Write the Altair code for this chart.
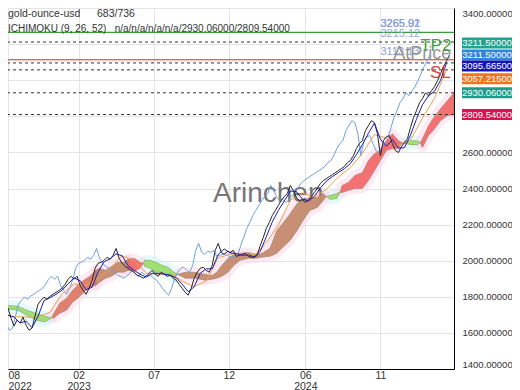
import altair as alt
import pandas as pd

FONT = "Arial"

# ---------------- data (x = trading-bar index, y = price) ----------------
close_start, close_step = 3, 4
close = [1698, 1660, 1737, 1682, 1638, 1671, 1654, 1687, 1643, 1615,
         1626, 1693, 1759, 1781, 1798, 1787, 1803, 1814, 1825, 1836,
         1847, 1869, 1897, 1914, 1897, 1914, 1864, 1836, 1814, 1847,
         1892, 1958, 1986, 1991, 2002, 2019, 2008, 2030, 2068, 2013,
         1986, 1969, 1958, 1947, 1936, 1919, 1914, 1903, 1914, 1930,
         1947, 1925, 1914, 1936, 1925, 1914, 1919, 1903, 1892, 1869,
         1847, 1825, 1809, 1847, 1903, 1936, 1958, 1964, 1947, 1936,
         1975, 2057, 2096, 2046, 2035, 2052, 2046, 2057, 2024, 2030,
         2035, 2041, 2024, 2019, 2019, 2030, 2085, 2129, 2179, 2212,
         2251, 2278, 2306, 2334, 2356, 2372, 2417, 2389, 2350, 2334,
         2339, 2323, 2334, 2356, 2378, 2400, 2428, 2444, 2455, 2466,
         2477, 2488, 2499, 2510, 2522, 2544, 2555, 2582, 2621, 2649,
         2665, 2720, 2748, 2776, 2765, 2704, 2582, 2665, 2687, 2693,
         2649, 2610, 2599, 2632, 2654, 2676, 2737, 2792, 2831, 2875,
         2897, 2930, 2914, 2941, 2964, 2997, 3035, 3074, 3107, 3140]

tenkan_start, tenkan_step = 11, 8
tenkan = [1698, 1688, 1655, 1665, 1629, 1692, 1779, 1795, 1814, 1836,
          1872, 1905, 1889, 1839, 1853, 1939, 1994, 2010, 2038, 2027,
          1972, 1947, 1925, 1909, 1930, 1930, 1925, 1920, 1905, 1870,
          1828, 1856, 1930, 1955, 1955, 2035, 2065, 2043, 2040, 2030,
          2032, 2021, 2052, 2132, 2215, 2278, 2331, 2386, 2383, 2342,
          2331, 2356, 2403, 2441, 2466, 2488, 2510, 2538, 2588, 2643,
          2706, 2762, 2673, 2634, 2671, 2624, 2626, 2695, 2784, 2864,
          2913, 2939, 2999, 3095.665]

kijun_start, kijun_step = 3, 16
kijun = [1700, 1690, 1688, 1687, 1715, 1817, 1870, 1864, 1900, 1956,
         2027, 2002, 1931, 1925, 1931, 1886, 1856, 1887, 2016, 2036,
         2041, 2030, 2099, 2196, 2334, 2376, 2351, 2395, 2464, 2516,
         2594, 2699, 2679, 2638, 2668, 2790, 2900, 3057.215]

chikou_shift = 26

# cloud (senkou span A / B), split in segments by colour
cloud_bar = [3, 24, 36, 48, 60, 69,
             69, 72, 80, 89, 97, 104, 112, 120, 128,
             128, 133, 141, 149, 157, 165, 171,
             171, 179, 187, 191,
             191, 193, 200, 208, 216, 224, 232, 237,
             237, 247, 260, 273, 283, 289, 296, 304, 312, 320, 331, 341,
             349, 360, 369, 377, 387, 396, 404, 413, 423, 431, 435,
             435, 440, 449, 453,
             453, 456, 464, 473, 483, 491, 499, 507, 515, 523, 531, 536,
             536, 547, 556, 560,
             560, 563, 571, 577, 587, 596, 605]
cloud_a = [1754, 1748, 1726, 1709, 1693, 1682,
           1682, 1709, 1765, 1792, 1836, 1864, 1892, 1914, 1947,
           1947, 1958, 1947, 1969, 1991, 1991, 2008,
           2008, 2013, 1991, 1986,
           1986, 2002, 2002, 1991, 1975, 1964, 1936, 1925,
           1925, 1936, 1936, 1925, 1919, 1936, 1975, 2013, 2035, 2041, 2046, 2035,
           2041, 2069, 2168, 2207, 2262, 2317, 2334, 2350, 2350, 2372, 2356,
           2356, 2361, 2372, 2378,
           2378, 2417, 2433, 2472, 2488, 2555, 2593, 2610, 2665, 2704, 2665, 2654,
           2654, 2665, 2665, 2654,
           2654, 2676, 2748, 2787, 2842, 2886, 2930.06]
cloud_b = [1737, 1726, 1698, 1671, 1660, 1682,
           1682, 1682, 1709, 1726, 1770, 1792, 1825, 1853, 1864,
           1864, 1881, 1903, 1914, 1936, 1936, 1947,
           1947, 1941, 1958, 1986,
           1986, 1969, 1958, 1936, 1936, 1919, 1908, 1925,
           1925, 1903, 1903, 1892, 1897, 1903, 1914, 1936, 1975, 2002, 2013, 2013,
           2019, 2024, 2041, 2074, 2113, 2168, 2223, 2278, 2295, 2334, 2356,
           2356, 2339, 2345, 2378,
           2378, 2378, 2389, 2400, 2400, 2444, 2499, 2555, 2610, 2621, 2621, 2654,
           2654, 2643, 2643, 2654,
           2654, 2627, 2693, 2720, 2776, 2803, 2809.54]
cloud_seg = ([1] * 6 + [2] * 9 + [3] * 7 + [4] * 4 + [5] * 8 + [6] * 23
             + [7] * 4 + [8] * 12 + [9] * 4 + [10] * 7)
seg_kind = ["green", "salmon", "brown", "red", "green",
            "brown", "green", "red", "green", "red"]
kind_names = ["green", "salmon", "brown", "red"]
kind_colors = ["#98e06c", "#df7a66", "#c48a6c", "#f26a6a"]
halo_colors = ["#c8f6f3", "#ffd3ec", "#ffd3ec", "#ffd3ec"]

# horizontal levels
green_level = 3265.0
red_level = 3113.13
dashed_levels = [3211.5, 3095.665, 3057.215, 2930.06, 2809.54]

# right-side price tags
tag_values = [3211.5, 3211.5, 3095.665, 3057.215, 2930.06, 2809.54]
tag_texts = ["3211.50000", "3211.50000", "3095.66500", "3057.21500", "2930.06000", "2809.54000"]
tag_colors = ["#22a38f", "#2f86de", "#1616b8", "#f2741a", "#1e9c8c", "#d8134f"]
tag_nudge = [1, 13, 3, 9, 0, 0]

# chart annotations
ann_text = ["3265.91", "3265.02", "3215.12", "3113.13", "AtPrice", "TP2", "SL"]
ann_bar = [507, 507, 507, 507, 524, 560, 573]
ann_price = [3265, 3265, 3215.12, 3113.13, 3113.13, 3211.5, 3057.215]
ann_color = ["#5a78d8", "#86a2e2", "#86a2e2", "#7f96d8", "#8c8c8c", "#2e9a2e", "#e02828"]
ann_size = [11, 11, 11, 11, 18, 17, 17]
ann_dy = [-3, -3, -2, -3, -1, 9, 8]

# x ticks
tick_bars = [11, 105, 205, 305, 407, 507]
tick_month = ["08", "02", "07", "12", "06", "11"]
tick_year = ["2022", "2023", "", "", "2024", ""]
y_ticks = [1400, 1600, 1800, 2000, 2200, 2400, 2600, 2800, 3000, 3200, 3400]

# ---------------- frames ----------------
close_df = pd.DataFrame({"bar": [close_start + close_step * i for i in range(len(close))],
                         "price": close})
tenkan_df = pd.DataFrame({"bar": [tenkan_start + tenkan_step * i for i in range(len(tenkan))],
                          "price": tenkan})
kijun_df = pd.DataFrame({"bar": [kijun_start + kijun_step * i for i in range(len(kijun))],
                         "price": kijun})
cloud_df = pd.DataFrame({"bar": cloud_bar, "a": cloud_a, "b": cloud_b, "seg": cloud_seg})
cloud_df["kind"] = [seg_kind[s - 1] for s in cloud_seg]

# ---------------- scales / axes ----------------
parts = []
for b, m, yv in zip(tick_bars, tick_month, tick_year):
    lab = f"['{m}','{yv}']" if yv else f"'{m}'"
    parts.append(f"datum.value == {b} ? {lab} : ")
label_expr = "".join(parts) + "''"

x_scale = alt.Scale(domain=[11, 605], nice=False, zero=False)
y_scale = alt.Scale(domain=[1400, 3400], nice=False, zero=False)
x_axis = alt.Axis(values=tick_bars, labelExpr=label_expr, grid=True, gridColor="#e4e4e4",
                  domainColor="#000000", domainWidth=1, ticks=False, labelFontSize=10.5,
                  labelColor="#333333", labelPadding=1, labelLineHeight=11, labelFlush=True,
                  labelOverlap=False, labelFont=FONT, title=None)
y_axis = alt.Axis(orient="right", values=y_ticks, format=".5f", grid=True, gridColor="#e4e4e4",
                  domainColor="#000000", domainWidth=1, ticks=False, labelFontSize=9.5,
                  labelColor="#333333", labelPadding=8, labelFlush=True, labelFont=FONT,
                  labelOverlap=False, title=None)


def X(field):
    return alt.X(field, type="quantitative", scale=x_scale, axis=x_axis)


def Y(field):
    return alt.Y(field, type="quantitative", scale=y_scale, axis=y_axis, stack=None)


def Y2(field):
    return alt.Y2(field)


layers = []

# faint halo around the cloud
for k, hc in zip(kind_names, halo_colors):
    for s in sorted(set(cloud_df.loc[cloud_df["kind"] == k, "seg"])):
        sub = cloud_df[cloud_df["seg"] == s]
        layers.append(alt.Chart(sub).mark_area(
            fill=hc, fillOpacity=0.5, stroke=hc, strokeWidth=10, strokeOpacity=0.5,
            strokeJoin="round", clip=True).encode(x=X("bar"), y=Y("a"), y2=Y2("b")))

# watermark
layers.append(alt.Chart(pd.DataFrame({"t": ["Arinchen"]})).mark_text(
    text="Arinchen", font=FONT, fontSize=28, color="#555555", opacity=0.8,
    align="left", baseline="middle").encode(x=alt.value(205), y=alt.value(186)))

# cloud
for k, kc in zip(kind_names, kind_colors):
    for s in sorted(set(cloud_df.loc[cloud_df["kind"] == k, "seg"])):
        sub = cloud_df[cloud_df["seg"] == s]
        layers.append(alt.Chart(sub).mark_area(
            fill=kc, fillOpacity=0.95, stroke="#8d7f58", strokeWidth=0.7, strokeOpacity=0.7,
            clip=True).encode(x=X("bar"), y=Y("a"), y2=Y2("b")))

# levels
layers.append(alt.Chart(pd.DataFrame({"v": [green_level]})).mark_rule(
    color="#3a9a3a", strokeWidth=1.2).encode(y=Y("v")))
layers.append(alt.Chart(pd.DataFrame({"v": dashed_levels})).mark_rule(
    color="#333333", strokeWidth=1, strokeDash=[3, 3]).encode(y=Y("v")))
layers.append(alt.Chart(pd.DataFrame({"v": [red_level]})).mark_rule(
    color="#d82c2c", strokeWidth=1).encode(y=Y("v")))

# chikou, kijun, close, tenkan
layers.append(alt.Chart(close_df).transform_calculate(cb=f"datum.bar - {chikou_shift}").mark_line(
    color="#6b9fe4", strokeWidth=1, clip=True).encode(x=X("cb"), y=Y("price")))
layers.append(alt.Chart(kijun_df).mark_line(color="#f0a04a", strokeWidth=1, clip=True).encode(
    x=X("bar"), y=Y("price")))
layers.append(alt.Chart(close_df).mark_line(color="#262626", strokeWidth=1, clip=True).encode(
    x=X("bar"), y=Y("price")))
layers.append(alt.Chart(tenkan_df).mark_line(color="#1c1cb4", strokeWidth=1, clip=True).encode(
    x=X("bar"), y=Y("price")))

# annotations
for t, b, p, c, s, d in zip(ann_text, ann_bar, ann_price, ann_color, ann_size, ann_dy):
    base = "bottom" if s < 14 else "alphabetic"
    layers.append(alt.Chart(pd.DataFrame({"bar": [b], "p": [p]})).mark_text(
        text=t, font=FONT, fontSize=s, color=c, align="left", baseline=base, dy=d,
        opacity=0.9).encode(x=X("bar"), y=Y("p")))

# header texts
layers.append(alt.Chart(pd.DataFrame({"t": [0]})).mark_text(
    text="gold-ounce-usd", font=FONT, fontSize=10.5, color="#333333", align="left",
    baseline="middle").encode(x=alt.value(0), y=alt.value(6)))
layers.append(alt.Chart(pd.DataFrame({"t": [0]})).mark_text(
    text="683/736", font=FONT, fontSize=10.5, color="#333333", align="left",
    baseline="middle").encode(x=alt.value(89), y=alt.value(6)))
layers.append(alt.Chart(pd.DataFrame({"t": [0]})).mark_text(
    text="ICHIMOKU (9, 26, 52)\u00a0\u00a0\u00a0n/a/n/a/n/a/n/a/2930.06000/2809.54000", font=FONT,
    fontSize=10, color="#333333", align="left",
    baseline="middle").encode(x=alt.value(0), y=alt.value(21)))

# right price tags
box = "M-1,-0.22H1V0.22H-1Z"
for v, t, c, n in zip(tag_values, tag_texts, tag_colors, tag_nudge):
    d = pd.DataFrame({"v": [v]})
    layers.append(alt.Chart(d).mark_point(shape=box, filled=True, size=2500, color=c, opacity=1,
                                          strokeWidth=0, yOffset=n).encode(
        x=alt.value(479), y=Y("v")))
    layers.append(alt.Chart(d).mark_text(text=t, font=FONT, fontSize=9.5, color="white",
                                         align="center", baseline="middle", yOffset=n).encode(
        x=alt.value(479), y=Y("v")))

chart = alt.layer(*layers).properties(
    width=446, height=361,
    autosize=alt.AutoSizeParams(type="none"),
    padding={"left": 0, "top": 0, "right": 58, "bottom": 21},
).configure_view(stroke=None).configure(background="white")

chart.save("out.html", embed_options={"renderer": "svg", "actions": False})
